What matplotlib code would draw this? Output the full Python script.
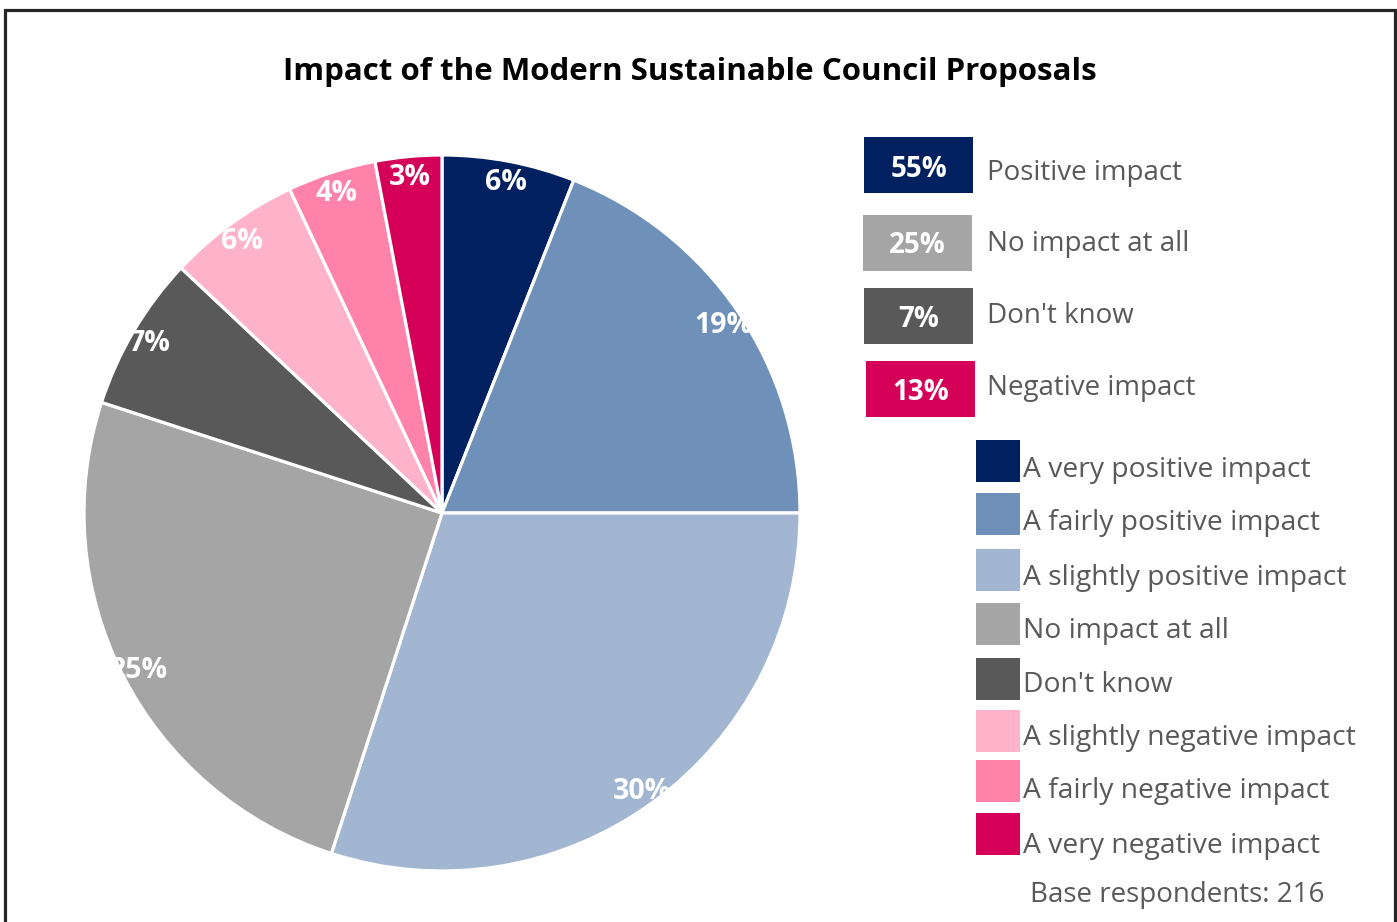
import matplotlib
matplotlib.use("Agg")
import matplotlib.pyplot as plt
from matplotlib.patches import Rectangle

plt.rcParams['font.family'] = ['Open Sans', 'DejaVu Sans']

# ---- data ----
title = "Impact of the Modern Sustainable Council Proposals"
categories = ["A very positive impact", "A fairly positive impact", "A slightly positive impact",
              "No impact at all", "Don't know", "A slightly negative impact",
              "A fairly negative impact", "A very negative impact"]
values = [6, 19, 30, 25, 7, 6, 4, 3]
colors = ["#002060", "#6E90B9", "#A2B6D2", "#A5A5A5", "#595959", "#FFB3CB", "#FF82AB", "#D50057"]

summary_labels = ["Positive impact", "No impact at all", "Don't know", "Negative impact"]
summary_values = [55, 25, 7, 13]
summary_colors = ["#002060", "#A5A5A5", "#595959", "#D50057"]
base_note = "Base respondents: 216"

W, H = 1397, 922
fig = plt.figure(figsize=(W / 100, H / 100), dpi=100)
ax = fig.add_axes([0, 0, 1, 1])

def Y(y):
    return H - y

TXT = "#595959"

# pie
wedges, texts, autotexts = ax.pie(
    values, colors=colors, startangle=90, counterclock=False,
    center=(442, Y(513)), radius=358, frame=True,
    autopct=lambda p: f"{p:.0f}%", pctdistance=0.95,
    wedgeprops=dict(edgecolor="white", linewidth=2.3),
    textprops=dict(color="white", fontsize=20.5, fontweight="bold"))
for t in autotexts:
    t.set_va('center_baseline')
ax.set_xlim(0, W)
ax.set_ylim(0, H)
ax.set_aspect('equal')
ax.axis('off')

# title
ax.text(690, Y(72), title, ha='center', va='center', fontsize=22.5, fontweight='bold', color='black')

# summary boxes
box_tops = [137, 215, 288, 361]
box_x = [864, 863, 864, 866]
num_base = [177, 253, 327, 400]
lab_base = [180, 251, 323, 395]
for lab, val, col, top, bx, nb, lb in zip(summary_labels, summary_values, summary_colors,
                                          box_tops, box_x, num_base, lab_base):
    ax.add_patch(Rectangle((bx, Y(top + 56)), 109, 56, facecolor=col, edgecolor='none'))
    ax.text(bx + 54.5, Y(nb), f"{val}%", ha='center', va='baseline',
            fontsize=20, fontweight='bold', color='white')
    ax.text(987, Y(lb), lab, ha='left', va='baseline', fontsize=20, color=TXT)

# detailed legend
leg_tops = [440, 493, 549, 603, 658, 710, 760, 813]
leg_base = [477, 530, 585, 638, 692, 745, 798, 853]
for lab, col, top, lb in zip(categories, colors, leg_tops, leg_base):
    ax.add_patch(Rectangle((976, Y(top + 42)), 44, 42, facecolor=col, edgecolor='none'))
    ax.text(1023, Y(lb), lab, ha='left', va='baseline', fontsize=20.3, color=TXT)

ax.text(1177, Y(902), base_note, ha='center', va='baseline', fontsize=20, color=TXT)

# border
ax.add_patch(Rectangle((5, -10), 1390, Y(10) + 10, facecolor='none', edgecolor='#262626', linewidth=2.3))

fig.savefig("out.png", dpi=100, facecolor='white')
